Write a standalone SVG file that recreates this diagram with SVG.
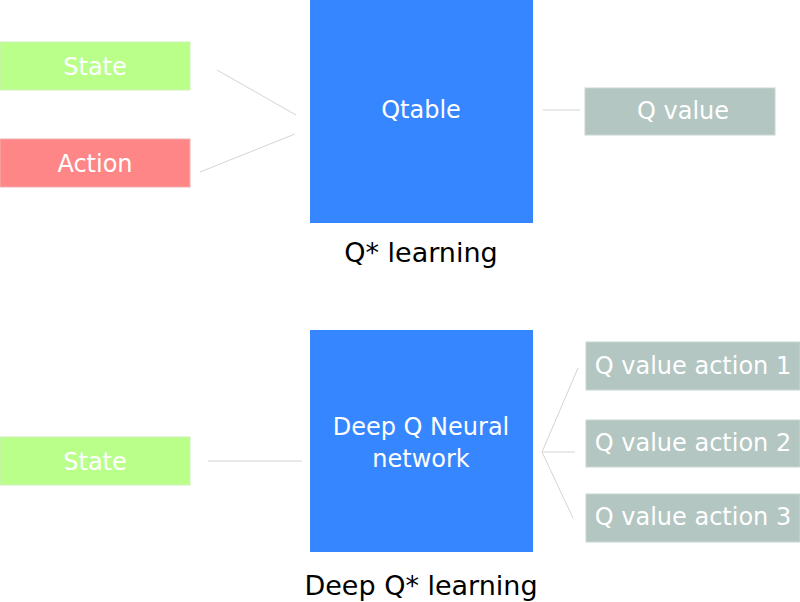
<svg xmlns="http://www.w3.org/2000/svg" width="800" height="602" viewBox="0 0 800 602">
<style>
text{font-family:"DejaVu Sans",sans-serif;text-anchor:middle}
.l{fill:#fff;font-size:24px}
.c{fill:#000;font-size:27px}
.g{fill:#b3c6c1;stroke:#c8d6d2;stroke-width:1}
.b{fill:#3686ff}
.cn line{stroke:#d4d4d4;stroke-width:1}
</style>
<rect width="800" height="602" fill="#fff"/>
<g class="cn">
<line x1="217" y1="70" x2="296" y2="115"/>
<line x1="200" y1="172" x2="295" y2="134"/>
<line x1="543" y1="110" x2="580" y2="110"/>
<line x1="208" y1="461" x2="302" y2="461"/>
<line x1="542" y1="452" x2="578" y2="368"/>
<line x1="542" y1="452" x2="575" y2="452"/>
<line x1="542" y1="452" x2="573" y2="518"/>
</g>
<g id="state1"><rect x="0" y="42" width="190" height="48" fill="#b9ff8a" stroke="#d0f0b8"/><text class="l" x="95" y="75">State</text></g>
<g id="action"><rect x="0" y="139" width="190" height="48" fill="#ff8686" stroke="#f0b0b0"/><text class="l" x="95" y="172">Action</text></g>
<g id="qtable"><rect class="b" x="310" y="0" width="223" height="223"/><text class="l" x="421" y="118">Qtable</text></g>
<g id="qvalue"><rect class="g" x="585" y="88" width="190" height="47"/><text class="l" x="683" y="119">Q value</text></g>
<text class="c" x="421" y="262">Q* learning</text>
<g id="state2"><rect x="0" y="437" width="190" height="48" fill="#b9ff8a" stroke="#d0f0b8"/><text class="l" x="95" y="470">State</text></g>
<g id="dqn"><rect class="b" x="310" y="330" width="223" height="222"/><text class="l" x="421" y="435">Deep Q Neural</text><text class="l" x="421" y="467">network</text></g>
<g id="qa1"><rect class="g" x="586" y="342" width="214" height="48"/><text class="l" x="693" y="374">Q value action 1</text></g>
<g id="qa2"><rect class="g" x="586" y="420" width="214" height="47"/><text class="l" x="693" y="451">Q value action 2</text></g>
<g id="qa3"><rect class="g" x="586" y="494" width="214" height="48"/><text class="l" x="693" y="525">Q value action 3</text></g>
<text class="c" x="421" y="595">Deep Q* learning</text>
</svg>
